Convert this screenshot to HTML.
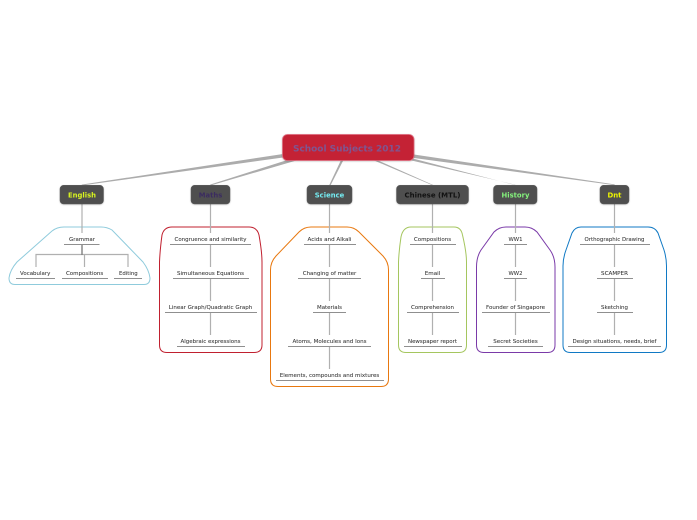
<!DOCTYPE html>
<html><head><meta charset="utf-8"><style>
html,body{margin:0;padding:0;background:#fff;width:697px;height:520px;overflow:hidden}
svg{display:block}
text{font-family:"DejaVu Sans","Liberation Sans",sans-serif;text-anchor:middle}
.t{font-size:5.6px;fill:#333;stroke:#555;stroke-width:.08}
.b{font-size:7px;font-weight:bold}
.u{stroke:#8f8f8f;stroke-width:.9;fill:none}
.v{stroke:#b0b0b0;stroke-width:1.2;fill:none}
.c{fill:#acacac}
.blob{fill:#fff;stroke-width:1}
.box{fill:#4f4f4f;stroke:#5c5c5c;stroke-width:.5}
</style></head><body>
<svg width="697" height="520" viewBox="0 0 697 520" xmlns="http://www.w3.org/2000/svg">
<defs><filter id="s" x="-20%" y="-20%" width="140%" height="140%"><feDropShadow dx="0" dy="0.5" stdDeviation="0.8" flood-color="#000" flood-opacity=".25"/></filter></defs>

<!-- connectors -->
<polygon class="c" points="283,154 283,157.5 82.5,185.4 81.5,184.6"/>
<polygon class="c" points="292,158.5 298,160 211,185.4 210,184.6"/>
<polygon class="c" points="341,160 343.5,160 330.7,185 329.3,185"/>
<polygon class="c" points="373,160 377,160 433.2,185 431.8,185"/>
<polygon class="c" points="403,158.5 409,157.5 516,185.3 515,184.7"/>
<polygon class="c" points="414,154.5 414,158 615,185.3 614.5,184.4"/>

<!-- blobs -->
<path class="blob" stroke="#8fcbdc" d="M64 227 H101 Q107 227 112 230 L143 262 Q149 270 150 278 Q150 284.5 144 284.5 H15 Q9 284.5 9 278 Q10 270 17 262 L52 231 Q57 227 64 227 Z"/>
<path class="blob" stroke="#c0202f" d="M172 227 H249 Q257 227 259 235 Q262 252 262 262 V345 Q262 352.5 254 352.5 H167 Q159.5 352.5 159.5 345 V262 Q160 250 162 235 Q164 227 172 227 Z"/>
<path class="blob" stroke="#e8780f" d="M311 227 H347 Q354 227 359 232 L383 256 Q388.5 262 388.5 270 V379 Q388.5 386.5 381 386.5 H278 Q270.5 386.5 270.5 379 V270 Q270.5 262 276 256 L299 232 Q304 227 311 227 Z"/>
<path class="blob" stroke="#a5c65f" d="M411 227 H454 Q461 227 462.5 235 Q466.5 252 466.5 262 V345 Q466.5 352.5 459 352.5 H406 Q398.5 352.5 398.5 345 V262 Q399 250 401 237 Q403 227 411 227 Z"/>
<path class="blob" stroke="#7a3aa8" d="M506 227 H525 Q532 227 537 232 L550 250 Q555 257 555 267 V345 Q555 352.5 547.5 352.5 H484 Q476.5 352.5 476.5 345 V267 Q476.5 257 481 250 L494 232 Q499 227 506 227 Z"/>
<path class="blob" stroke="#1079c4" d="M581 227 H648 Q655 227 658 233 L664 250 Q666.5 258 666.5 266 V345 Q666.5 352.5 659 352.5 H570.5 Q563 352.5 563 345 V266 Q563 258 566 250 L572 233 Q575 227 581 227 Z"/>

<!-- vertical lines -->
<path class="v" d="M82 204V233M36 267V254.5H128V267M84.5 254.5V267"/>
<path d="M82 245V255" stroke="#808080" stroke-width="1.4" fill="none"/>
<path class="v" d="M210.5 204V233M210.5 245V267M210.5 279V301M210.5 313V335"/>
<path class="v" d="M329.5 204V233M329.5 245V267M329.5 279V301M329.5 313V335M329.5 347V369"/>
<path class="v" d="M432.5 204V233M432.5 245V267M432.5 279V301M432.5 313V335"/>
<path class="v" d="M515.5 204V233M515.5 245V267M515.5 279V301M515.5 313V335"/>
<path class="v" d="M614.5 204V233M614.5 245V267M614.5 279V301M614.5 313V335"/>

<!-- underlines -->
<path class="u" d="M64 244.5H99.5M16 278.5H55M62 278.5H108M114 278.5H142"/>
<path class="u" d="M170 244.5H251M173 278.5H249M165 312.5H257M177 346.5H245"/>
<path class="u" d="M304 244.5H356M298 278.5H361M313 312.5H346M288 346.5H371M276 380.5H384"/>
<path class="u" d="M410 244.5H456M421 278.5H445M407 312.5H459M404 346.5H462"/>
<path class="u" d="M504 244.5H527M504 278.5H527M482 312.5H550M488 346.5H543"/>
<path class="u" d="M580 244.5H650M597 278.5H633M597 312.5H633M568 346.5H661"/>

<!-- root -->
<rect x="282.5" y="134.5" width="131.5" height="26" rx="5" fill="#c42036" stroke="#de6a7c" stroke-width=".8" filter="url(#s)"/>
<text x="347" y="151.5" font-size="9.2" font-weight="bold" fill="#7f5590" textLength="108" lengthAdjust="spacingAndGlyphs">School Subjects 2012</text>

<!-- branches -->
<g filter="url(#s)">
<rect class="box" x="60" y="185.3" width="43.5" height="18.7" rx="3.5"/>
<rect class="box" x="191" y="185.3" width="39" height="18.7" rx="3.5"/>
<rect class="box" x="307" y="185.3" width="45" height="18.7" rx="3.5"/>
<rect class="box" x="396.5" y="185.3" width="72" height="18.7" rx="3.5"/>
<rect class="box" x="493.5" y="185.3" width="43.5" height="18.7" rx="3.5"/>
<rect class="box" x="600" y="185.3" width="29" height="18.7" rx="3.5"/>
</g>
<text class="b" x="82" y="197.7" fill="#d9f51f" textLength="28" lengthAdjust="spacingAndGlyphs">English</text>
<text class="b" x="210.5" y="197.7" fill="#3b2c60" textLength="23.5" lengthAdjust="spacingAndGlyphs">Maths</text>
<text class="b" x="329.5" y="197.7" fill="#74ecf2" textLength="29.5" lengthAdjust="spacingAndGlyphs">Science</text>
<text class="b" x="432.5" y="197.7" fill="#111" textLength="56" lengthAdjust="spacingAndGlyphs">Chinese (MTL)</text>
<text class="b" x="515.5" y="197.7" fill="#84f27c" textLength="28" lengthAdjust="spacingAndGlyphs">History</text>
<text class="b" x="614.5" y="197.7" fill="#eef500" textLength="14" lengthAdjust="spacingAndGlyphs">Dnt</text>

<!-- labels -->
<g>
<text class="t" x="82" y="241" textLength="26" lengthAdjust="spacingAndGlyphs">Grammar</text>
<text class="t" x="35.2" y="275" textLength="30.3" lengthAdjust="spacingAndGlyphs">Vocabulary</text>
<text class="t" x="84.6" y="275" textLength="37.3" lengthAdjust="spacingAndGlyphs">Compositions</text>
<text class="t" x="128.3" y="275" textLength="18.7" lengthAdjust="spacingAndGlyphs">Editing</text>

<text class="t" x="210.5" y="241" textLength="72" lengthAdjust="spacingAndGlyphs">Congruence and similarity</text>
<text class="t" x="210.5" y="275" textLength="67" lengthAdjust="spacingAndGlyphs">Simultaneous Equations</text>
<text class="t" x="210.5" y="309" textLength="83.5" lengthAdjust="spacingAndGlyphs">Linear Graph/Quadratic Graph</text>
<text class="t" x="210.5" y="343" textLength="60" lengthAdjust="spacingAndGlyphs">Algebraic expressions</text>

<text class="t" x="329.5" y="241" textLength="44" lengthAdjust="spacingAndGlyphs">Acids and Alkali</text>
<text class="t" x="329.5" y="275" textLength="53.5" lengthAdjust="spacingAndGlyphs">Changing of matter</text>
<text class="t" x="329.5" y="309" textLength="25" lengthAdjust="spacingAndGlyphs">Materials</text>
<text class="t" x="329.5" y="343" textLength="74" lengthAdjust="spacingAndGlyphs">Atoms, Molecules and Ions</text>
<text class="t" x="329.5" y="377" textLength="99.5" lengthAdjust="spacingAndGlyphs">Elements, compounds and mixtures</text>

<text class="t" x="432.5" y="241" textLength="37.3" lengthAdjust="spacingAndGlyphs">Compositions</text>
<text class="t" x="432.5" y="275" textLength="15.5" lengthAdjust="spacingAndGlyphs">Email</text>
<text class="t" x="432.5" y="309" textLength="43" lengthAdjust="spacingAndGlyphs">Comprehension</text>
<text class="t" x="432.5" y="343" textLength="49" lengthAdjust="spacingAndGlyphs">Newspaper report</text>

<text class="t" x="515.5" y="241" textLength="14" lengthAdjust="spacingAndGlyphs">WW1</text>
<text class="t" x="515.5" y="275" textLength="14" lengthAdjust="spacingAndGlyphs">WW2</text>
<text class="t" x="515.5" y="309" textLength="59" lengthAdjust="spacingAndGlyphs">Founder of Singapore</text>
<text class="t" x="515.5" y="343" textLength="44.5" lengthAdjust="spacingAndGlyphs">Secret Societies</text>

<text class="t" x="614.5" y="241" textLength="60" lengthAdjust="spacingAndGlyphs">Orthographic Drawing</text>
<text class="t" x="614.5" y="275" textLength="27" lengthAdjust="spacingAndGlyphs">SCAMPER</text>
<text class="t" x="614.5" y="309" textLength="27" lengthAdjust="spacingAndGlyphs">Sketching</text>
<text class="t" x="614.5" y="343" textLength="84" lengthAdjust="spacingAndGlyphs">Design situations, needs, brief</text>
</g>
</svg>
</body></html>
